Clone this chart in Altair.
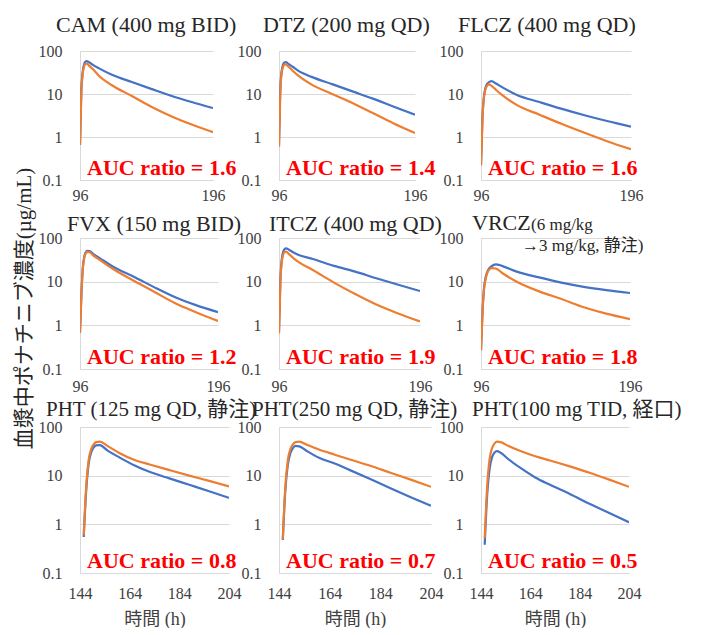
import altair as alt
import pandas as pd

# ---------------- data ----------------
T_TOP = [96, 97, 98, 99, 100, 101, 103, 106, 110, 120, 135, 150, 165, 180, 196]
T_BOT = [145.5, 146.5, 147.5, 148.5, 149.5, 150.5, 152, 155, 160, 166, 172, 180, 188, 196, 204]

CAM_BLUE = [0.65, 12, 32, 48, 56, 58, 54, 47, 40, 28, 19, 13, 9.0, 6.5, 4.7]
CAM_ORANGE = [0.65, 11, 29, 43, 50, 51, 45, 37, 27, 16, 9.0, 5.0, 3.0, 1.95, 1.3]
DTZ_BLUE = [0.6, 14, 35, 48, 54, 55, 50, 43, 35, 25, 17, 11.5, 7.8, 5.1, 3.3]
DTZ_ORANGE = [0.62, 12, 31, 43, 48, 49, 43, 35, 27, 16.5, 10, 6.2, 3.6, 2.1, 1.24]
FLCZ_BLUE = [0.22, 3, 9, 14, 17, 18.5, 20, 17.5, 14.5, 9.5, 6.5, 4.5, 3.2, 2.35, 1.74]
FLCZ_ORANGE = [0.22, 3, 8.5, 13, 15.5, 16.8, 15.5, 12.5, 9.5, 5.5, 3.3, 2.0, 1.25, 0.8, 0.52]
FVX_BLUE = [0.68, 5, 20, 36, 46, 51, 50, 42, 35, 22, 13, 7.4, 4.4, 2.9, 2.0]
FVX_ORANGE = [0.68, 5, 19, 34, 44, 48, 47, 39, 32, 19.5, 10.5, 5.8, 3.2, 2.0, 1.26]
ITCZ_BLUE = [0.7, 12, 33, 48, 56, 58, 54, 47, 41, 33, 23, 17, 12, 8.6, 6.1]
ITCZ_ORANGE = [0.65, 10, 29, 42, 48, 49, 43, 35, 28, 18.5, 9.5, 5.2, 3.0, 1.9, 1.23]
VRCZ_BLUE = [0.27, 2, 7, 12, 16, 19, 22.5, 25, 23, 17, 12.5, 9.5, 7.6, 6.4, 5.5]
VRCZ_ORANGE = [0.27, 2, 6.5, 11, 15, 18, 20.5, 20, 16, 10, 6.0, 4.0, 2.6, 1.85, 1.39]
PHT125_BLUE = [0.55, 5, 18, 30, 38, 42, 42.5, 33, 23.5, 16.2, 12, 8.8, 6.5, 4.8, 3.5]
PHT125_ORANGE = [0.6, 6, 21, 35, 44, 49, 50, 41, 29, 21, 17, 13, 10, 7.8, 6.0]
PHT250_BLUE = [0.48, 5, 17, 29, 37, 41, 40, 32, 23, 17.8, 13, 8.5, 5.5, 3.6, 2.4]
PHT250_ORANGE = [0.5, 6, 21, 35, 44, 49, 50, 43, 34, 27, 21.5, 16, 11.5, 8.3, 5.9]
PHT100_BLUE = [0.38, 4, 14, 24, 30, 32, 29.5, 22, 14.4, 9.2, 6.5, 4.2, 2.65, 1.7, 1.1]
PHT100_ORANGE = [0.52, 6, 22, 37, 46, 50, 49, 41, 32, 25, 20.5, 15.5, 11.5, 8.3, 5.9]

TITLES = ["CAM (400 mg BID)", "DTZ (200 mg QD)", "FLCZ (400 mg QD)",
          "FVX (150 mg BID)", "ITCZ (400 mg QD)", "VRCZ",
          "PHT (125 mg QD, 静注)", "PHT(250 mg QD, 静注)", "PHT(100 mg TID, 経口)"]
VRCZ_SUB1 = "(6 mg/kg"
VRCZ_SUB2 = "→3 mg/kg, 静注)"
AUC_RATIOS = ["1.6", "1.4", "1.6", "1.2", "1.9", "1.8", "0.8", "0.7", "0.5"]

BLUES = [CAM_BLUE, DTZ_BLUE, FLCZ_BLUE, FVX_BLUE, ITCZ_BLUE, VRCZ_BLUE,
         PHT125_BLUE, PHT250_BLUE, PHT100_BLUE]
ORANGES = [CAM_ORANGE, DTZ_ORANGE, FLCZ_ORANGE, FVX_ORANGE, ITCZ_ORANGE, VRCZ_ORANGE,
           PHT125_ORANGE, PHT250_ORANGE, PHT100_ORANGE]

X_TICKS_TOP = [96, 196]
X_TICKS_BOT = [144, 164, 184, 204]
Y_TICKS = [0.1, 1, 10, 100]
Y_TITLE = "血漿中ポナチニブ濃度(µg/mL)"
X_TITLE = "時間 (h)"

# ---------------- style ----------------
SERIF = "'Liberation Serif', 'Times New Roman', Tinos, 'DejaVu Serif', serif, 'Noto Sans CJK JP'"
C_BLUE = "#4472C4"
C_ORANGE = "#ED7D31"
GRID = "#D9D9D9"
LABEL = "#404040"
TITLE_C = "#262626"

ROW_H = [129, 131, 146]
ROW_W = [[133, 136, 150], [138, 141, 149], [149, 152, 148]]
X_LABEL_PAD = [7, 9, 12]
TITLE_DY = [-19, -7, -11]
TITLE_FS = [22, 22, 21]
TITLE_DX = [-24, -16, -23, -13, -10, -9, -34, -27, -9]


def panel(i):
    r, c = divmod(i, 3)
    w, h = ROW_W[r][c], ROW_H[r]
    t = T_TOP if r < 2 else T_BOT
    xdom = [96, 196] if r < 2 else [144, 204]
    xticks = X_TICKS_TOP if r < 2 else X_TICKS_BOT

    xaxis_kw = dict(values=xticks, grid=False, domainColor=GRID, ticks=False,
                    labelPadding=X_LABEL_PAD[r], labelFlush=False, labelOverlap=False,
                    labelFont=SERIF, labelFontSize=16, labelColor=LABEL)
    if r == 2:
        xaxis_kw.update(title=X_TITLE, titleFont=SERIF, titleFontSize=18,
                        titleFontWeight="normal", titleColor=LABEL,
                        titleY=51, titleBaseline="alphabetic")
    else:
        xaxis_kw.update(title=None)

    yaxis_kw = dict(values=Y_TICKS, format=".1~f", grid=True, gridColor=GRID,
                    domainColor=GRID, ticks=False, labelPadding=18,
                    labelFont=SERIF, labelFontSize=16, labelColor=LABEL,
                    labelOverlap=False)
    if i == 3:
        yaxis_kw.update(title=Y_TITLE, titleFont=SERIF, titleFontSize=21,
                        titleFontWeight="normal", titleColor=TITLE_C,
                        titleX=-50, titleY=70, titleAngle=270,
                        titleBaseline="alphabetic", titleAlign="center")
    else:
        yaxis_kw.update(title=None)

    x = alt.X("t:Q", scale=alt.Scale(domain=xdom, nice=False, zero=False),
              axis=alt.Axis(**xaxis_kw))
    y = alt.Y("c:Q", scale=alt.Scale(type="log", domain=[0.1, 100], nice=False),
              axis=alt.Axis(**yaxis_kw))

    df_b = pd.DataFrame({"t": t, "c": BLUES[i]})
    df_o = pd.DataFrame({"t": t, "c": ORANGES[i]})
    blue = alt.Chart(df_b).mark_line(color=C_BLUE, strokeWidth=2.2, clip=True,
                                     interpolate="monotone").encode(x=x, y=y)
    orange = alt.Chart(df_o).mark_line(color=C_ORANGE, strokeWidth=2.2, clip=True,
                                       interpolate="monotone").encode(x=x, y=y)

    auc = alt.Chart(pd.DataFrame({"label": ["AUC ratio = " + AUC_RATIOS[i]]})).mark_text(
        align="left", baseline="alphabetic", font=SERIF, fontSize=22,
        fontWeight="bold", color="#FF0000"
    ).encode(text="label:N", x=alt.value(7), y=alt.value(h - 5))

    layers = [blue, orange, auc]
    if i == 5:
        layers.append(alt.Chart(pd.DataFrame({"label": [TITLES[i]]})).mark_text(
            align="left", baseline="alphabetic", font=SERIF, fontSize=22, color=TITLE_C
        ).encode(text="label:N", x=alt.value(TITLE_DX[i]), y=alt.value(-8)))
        layers.append(alt.Chart(pd.DataFrame({"label": [VRCZ_SUB1]})).mark_text(
            align="left", baseline="alphabetic", font=SERIF, fontSize=17, color=TITLE_C
        ).encode(text="label:N", x=alt.value(50), y=alt.value(-8)))
        layers.append(alt.Chart(pd.DataFrame({"label": [VRCZ_SUB2]})).mark_text(
            align="left", baseline="alphabetic", font=SERIF, fontSize=17, color=TITLE_C
        ).encode(text="label:N", x=alt.value(41), y=alt.value(13)))
    else:
        layers.append(alt.Chart(pd.DataFrame({"label": [TITLES[i]]})).mark_text(
            align="left", baseline="alphabetic", font=SERIF, fontSize=TITLE_FS[r], color=TITLE_C
        ).encode(text="label:N", x=alt.value(TITLE_DX[i]), y=alt.value(TITLE_DY[r])))

    return alt.layer(*layers).properties(width=w, height=h)


chart = alt.concat(*[panel(i) for i in range(9)], columns=3,
                   spacing={"row": 58, "column": 50}, bounds="flush").properties(
    padding={"left": 4, "top": 6, "right": 0, "bottom": 0},
    background="white",
).configure_view(stroke=None)

chart.save("out.html", embed_options={"renderer": "svg", "actions": False})
